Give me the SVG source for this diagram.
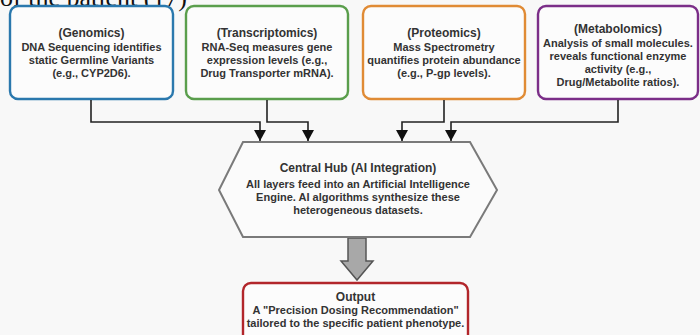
<svg xmlns="http://www.w3.org/2000/svg" width="700" height="335" viewBox="0 0 700 335">
<defs>
<style>
.bg{fill:#f8f8f8}
.box{fill:#fcfcfc;stroke-width:2.4}
.t{font-family:"Liberation Sans",Arial,sans-serif;font-weight:bold;fill:#333;text-anchor:middle}
.h{font-size:12px}
.b{font-size:11px}
.con{fill:none;stroke:#222;stroke-width:1.6}
</style>
<marker id="ah" markerUnits="userSpaceOnUse" markerWidth="12" markerHeight="12" viewBox="0 0 12 12" refX="11" refY="6" orient="auto">
<path d="M0,0 L11,6 L0,12 Z" fill="#111"/>
</marker>
</defs>
<rect class="bg" x="0" y="0" width="700" height="335"/>
<text x="0" y="6" font-family="Liberation Serif,Times New Roman,serif" font-size="26" fill="#111">of the patient (17)</text>

<g id="genomics">
<rect class="box" x="10" y="6" width="163" height="93" rx="8" stroke="#2a78ad"/>
<text class="t h" x="91.5" y="37">(Genomics)</text>
<text class="t b" x="91.5" y="50.5">DNA Sequencing identifies</text>
<text class="t b" x="91.5" y="63.5">static Germline Variants</text>
<text class="t b" x="91.5" y="76.5">(e.g., CYP2D6).</text>
</g>
<g id="transcriptomics">
<rect class="box" x="186" y="6" width="162" height="93" rx="8" stroke="#5a9e4c"/>
<text class="t h" x="267" y="37">(Transcriptomics)</text>
<text class="t b" x="267" y="50.5">RNA-Seq measures gene</text>
<text class="t b" x="267" y="63.5">expression levels (e.g.,</text>
<text class="t b" x="267" y="76.5">Drug Transporter mRNA).</text>
</g>
<g id="proteomics">
<rect class="box" x="363" y="6" width="162" height="93" rx="8" stroke="#e08b35"/>
<text class="t h" x="444" y="37">(Proteomics)</text>
<text class="t b" x="444" y="50.5">Mass Spectrometry</text>
<text class="t b" x="444" y="63.5">quantifies protein abundance</text>
<text class="t b" x="444" y="76.5">(e.g., P-gp levels).</text>
</g>
<g id="metabolomics">
<rect class="box" x="538" y="6" width="160" height="93" rx="8" stroke="#7b2e88"/>
<text class="t h" x="618" y="33">(Metabolomics)</text>
<text class="t b" x="618" y="46.5">Analysis of small molecules.</text>
<text class="t b" x="618" y="60">reveals functional enzyme</text>
<text class="t b" x="618" y="73">activity (e.g.,</text>
<text class="t b" x="618" y="86">Drug/Metabolite ratios).</text>
</g>

<g id="connectors">
<polyline class="con" points="91,100 91,122 260,122 260,141" marker-end="url(#ah)"/>
<polyline class="con" points="267,100 267,122 308,122 308,141" marker-end="url(#ah)"/>
<polyline class="con" points="444,100 444,122 402,122 402,141" marker-end="url(#ah)"/>
<polyline class="con" points="618,100 618,122 451,122 451,141" marker-end="url(#ah)"/>
<polygon points="348,238 366,238 366,261 373,261 357,280 341,261 348,261" fill="#a8a8a8" stroke="#555" stroke-width="1.5" stroke-linejoin="miter"/>
</g>

<g id="hub">
<polygon points="243,142 470,142 497,190 470,237 243,237 219,190" fill="#fbfbfb" stroke="#7a7a7a" stroke-width="2"/>
<text class="t h" x="358" y="172">Central Hub (AI Integration)</text>
<text class="t b" x="358" y="188">All layers feed into an Artificial Intelligence</text>
<text class="t b" x="358" y="201">Engine. AI algorithms synthesize these</text>
<text class="t b" x="358" y="214">heterogeneous datasets.</text>
</g>

<g id="output">
<rect class="box" x="243" y="283" width="225" height="66" rx="8" stroke="#b2262b"/>
<text class="t h" x="355.5" y="301">Output</text>
<text class="t b" x="355.5" y="314">A "Precision Dosing Recommendation"</text>
<text class="t b" x="355.5" y="327">tailored to the specific patient phenotype.</text>
</g>
</svg>
